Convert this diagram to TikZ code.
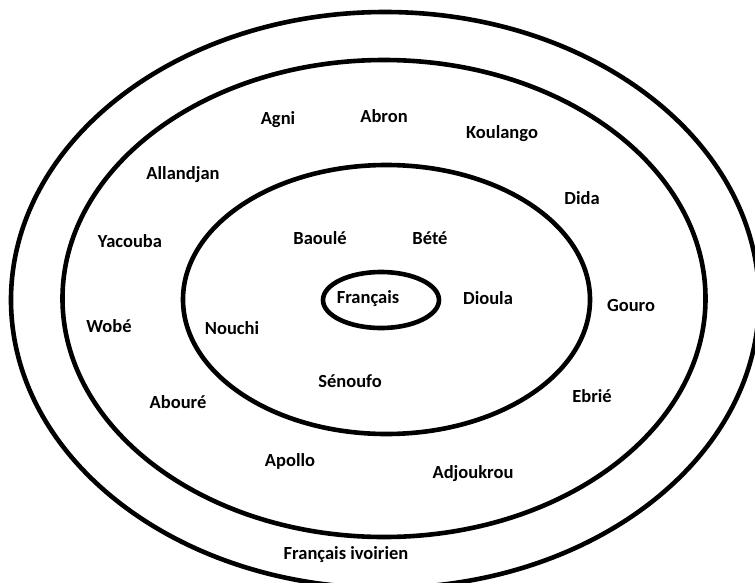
\documentclass[tikz,border=0pt]{standalone}
\usepackage{fontspec}
\setmainfont{Carlito}
\usepackage{tikz}
\usetikzlibrary{positioning}

\tikzset{
  ring/.style={draw=black, line width=4.6pt},
  lang/.style={font=\bfseries\fontsize{18.5}{22}\selectfont, inner sep=0pt,
    text height=12pt, text depth=0pt}
}

\begin{document}
\begin{tikzpicture}[x=1pt,y=-1pt]
\useasboundingbox (0,0) rectangle (755,582);
\clip (0,0) rectangle (755,582);
\fill[white] (0,0) rectangle (755,582);

% Draw the rings
\draw[ring] (385,300) ellipse [x radius=374pt, y radius=288pt];
\draw[ring] (384,298.5) ellipse [x radius=321.5pt, y radius=238.5pt];
\draw[ring] (386.5,299.5) ellipse [x radius=203.5pt, y radius=134.5pt];
\draw[ring] (381,300) ellipse [x radius=58pt, y radius=28pt];

% Centre
\node[lang] (francais) at (368,297) {Français};

% Inner ring
\node[lang] (baoule) at (320,238) {Baoulé};
\node[lang] (bete) at (430,238) {Bété};
\node[lang] (dioula) at (488,298) {Dioula};
\node[lang] (nouchi) at (232,328) {Nouchi};
\node[lang] (senoufo) at (350,381) {Sénoufo};

% Middle ring
\node[lang] (agni) at (278,118) {Agni};
\node[lang] (abron) at (384,116) {Abron};
\node[lang] (koulango) at (502,132) {Koulango};
\node[lang] (allandjan) at (183,173) {Allandjan};
\node[lang] (dida) at (582,198) {Dida};
\node[lang] (yacouba) at (130,241) {Yacouba};
\node[lang] (gouro) at (631,305) {Gouro};
\node[lang] (wobe) at (109,326) {Wobé};
\node[lang] (aboure) at (178,402) {Abouré};
\node[lang] (ebrie) at (592,396) {Ebrié};
\node[lang] (apollo) at (290,460) {Apollo};
\node[lang] (adjoukrou) at (473,472) {Adjoukrou};

% Outer ring
\node[lang] (ivoirien) at (346,553) {Français ivoirien};
\end{tikzpicture}
\end{document}
